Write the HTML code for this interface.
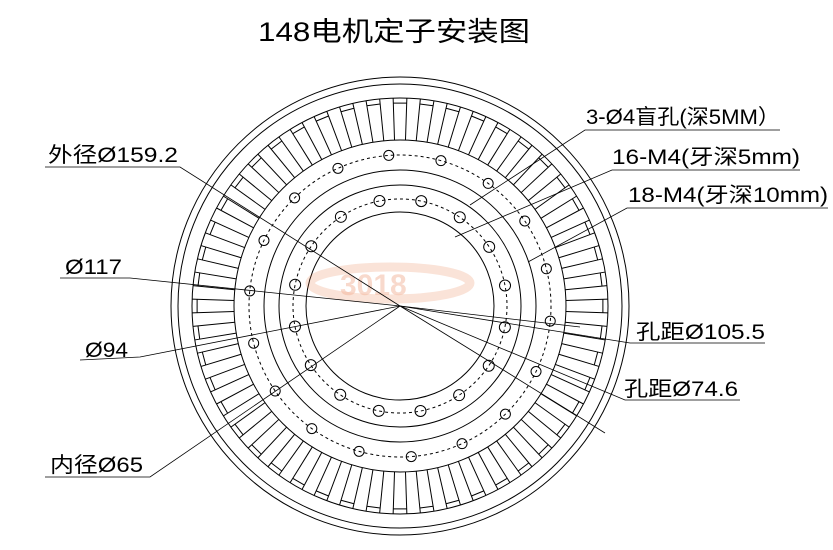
<!DOCTYPE html>
<html><head><meta charset="utf-8">
<style>
html,body{margin:0;padding:0;background:#fff;}
svg{display:block}
text{font-family:"Liberation Sans","Noto Sans CJK SC",sans-serif;fill:#000}
</style></head>
<body>
<svg id="s" width="833" height="550" viewBox="0 0 833 550" xmlns="http://www.w3.org/2000/svg">
<text x="258" y="41" font-size="27" textLength="272" lengthAdjust="spacingAndGlyphs">148电机定子安装图</text>
<g id="g" fill="none" stroke="#000" stroke-width="1">
<circle cx="400" cy="306" r="229"/>
<circle cx="400" cy="306" r="222"/>
<circle cx="400" cy="306" r="208"/>
<circle cx="400" cy="306" r="166"/>
<circle cx="400" cy="306" r="151" stroke-dasharray="3,3"/>
<circle cx="400" cy="306" r="136"/>
<circle cx="400" cy="306" r="121"/>
<circle cx="400" cy="306" r="107" stroke-dasharray="3,3"/>
<circle cx="400" cy="306" r="94"/>
</g>
<g fill="none" stroke="#e8743a" stroke-width="9" opacity="0.2">
<ellipse cx="390" cy="283" rx="80" ry="16"/>
</g>
<text x="340" y="295" font-size="30" font-weight="bold" style="fill:#f3b59a;opacity:0.5">3018</text>
<g stroke="#000" stroke-width="0.8" fill="none">
<polyline points="780,130 585,130 470,205"/>
<polyline points="800,170 612,170 455,237"/>
<polyline points="828,208 627,208 528,262"/>
<polyline points="765,343 630,343 400,306"/>
<polyline points="740,400 625,400 400,306"/>
<line x1="400" y1="306" x2="605" y2="433"/>
<line x1="400" y1="306" x2="580" y2="327"/>
<polyline points="45,167 180,167 400,306"/>
<polyline points="60,278 130,278 400,306"/>
<polyline points="80,360 140,357 400,306"/>
<polyline points="45,477 150,477 400,306"/>
</g>
<g font-size="21">
<text x="586" y="124" textLength="194" lengthAdjust="spacingAndGlyphs">3-Ø4盲孔(深5MM）</text>
<text x="612" y="164" textLength="188" lengthAdjust="spacingAndGlyphs">16-M4(牙深5mm)</text>
<text x="628" y="202" textLength="200" lengthAdjust="spacingAndGlyphs">18-M4(牙深10mm)</text>
<text x="48" y="162" textLength="130" lengthAdjust="spacingAndGlyphs">外径Ø159.2</text>
<text x="65" y="274" textLength="57" lengthAdjust="spacingAndGlyphs">Ø117</text>
<text x="85" y="357" textLength="43" lengthAdjust="spacingAndGlyphs">Ø94</text>
<text x="50" y="472" textLength="93" lengthAdjust="spacingAndGlyphs">内径Ø65</text>
<text x="636" y="339" textLength="129" lengthAdjust="spacingAndGlyphs">孔距Ø105.5</text>
<text x="624" y="396" textLength="114" lengthAdjust="spacingAndGlyphs">孔距Ø74.6</text>
</g>
</svg>
<script>
var g=document.getElementById('g'),ns='http://www.w3.org/2000/svg',cx=400,cy=306;
function el(t,a){var e=document.createElementNS(ns,t);for(var k in a)e.setAttribute(k,a[k]);g.appendChild(e);}
var N=48,h=0.033;
for(var i=0;i<N;i++){var a=2*Math.PI*i/N;for(var d of[-h,h]){var b=a+d;
el('line',{x1:cx+166*Math.cos(b),y1:cy+166*Math.sin(b),x2:cx+208*Math.cos(b),y2:cy+208*Math.sin(b)});}
var b1=a-h,b2=a+h;
el('line',{x1:cx+203*Math.cos(b1),y1:cy+203*Math.sin(b1),x2:cx+203*Math.cos(b2),y2:cy+203*Math.sin(b2)});}
for(var i=0;i<18;i++){var a=2*Math.PI*i/18+0.1;el('circle',{cx:cx+151*Math.cos(a),cy:cy+151*Math.sin(a),r:5});}
for(var i=0;i<16;i++){var a=2*Math.PI*i/16+0.2;el('circle',{cx:cx+107*Math.cos(a),cy:cy+107*Math.sin(a),r:5.5});}
</script>
</body></html>
